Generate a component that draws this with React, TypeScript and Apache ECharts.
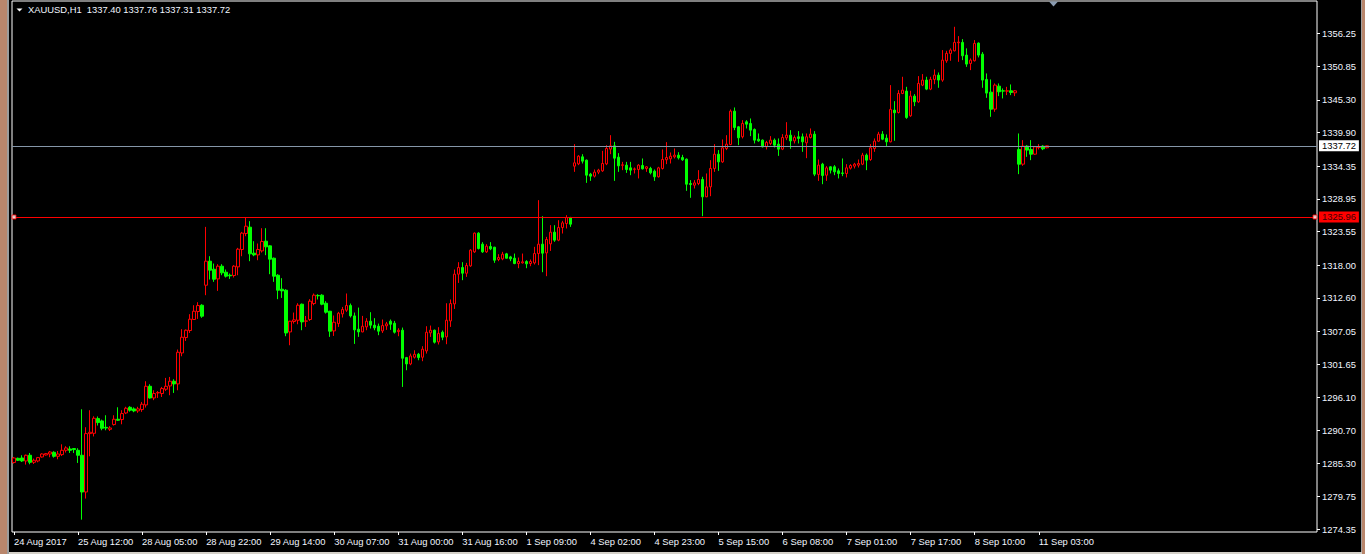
import React, { useEffect, useRef } from 'react';
import * as echarts from 'echarts';

const symbolTitle = 'XAUUSD,H1  1337.40 1337.76 1337.31 1337.72';
const xTickLabels = [
  '24 Aug 2017', '25 Aug 12:00', '28 Aug 05:00', '28 Aug 22:00', '29 Aug 14:00',
  '30 Aug 07:00', '31 Aug 00:00', '31 Aug 16:00', '1 Sep 09:00', '4 Sep 02:00',
  '4 Sep 23:00', '5 Sep 15:00', '6 Sep 08:00', '7 Sep 01:00', '7 Sep 17:00',
  '8 Sep 10:00', '11 Sep 03:00',
];
const barsPerLabel = 16;
const yTickValues = [
  1274.35, 1279.75, 1285.3, 1290.7, 1296.1, 1301.65, 1307.05, 1312.6,
  1318.0, 1323.55, 1328.95, 1334.35, 1339.9, 1345.3, 1350.85, 1356.25,
];
const yMin = 1273.91;
const yMax = 1361.65;
const bidLine = 1337.72;
const userLine = 1325.96;
const totalSlots = 326;

// [open, close, low, high]
const ohlc: number[][] = [
  [1285.40, 1286.14, 1285.22, 1286.31], [1286.09, 1285.76, 1285.65, 1286.20], [1286.14, 1285.65, 1285.48, 1286.59],
  [1285.65, 1286.59, 1285.05, 1286.70], [1286.59, 1285.43, 1285.10, 1286.97], [1285.43, 1285.76, 1285.15, 1286.04],
  [1285.65, 1286.20, 1285.43, 1286.31], [1286.31, 1286.80, 1286.20, 1286.92], [1286.64, 1286.86, 1286.54, 1286.97],
  [1286.80, 1287.13, 1286.26, 1287.30], [1287.08, 1286.42, 1286.20, 1287.25], [1286.42, 1286.80, 1285.93, 1287.30],
  [1286.70, 1287.41, 1286.47, 1288.40], [1287.41, 1287.80, 1287.04, 1288.08], [1287.63, 1287.41, 1286.97, 1288.08],
  [1287.70, 1287.53, 1286.97, 1287.75], [1287.41, 1286.59, 1285.32, 1287.75], [1286.59, 1280.52, 1275.95, 1294.19],
  [1280.52, 1290.17, 1279.43, 1291.22], [1290.17, 1290.39, 1286.42, 1294.03], [1290.22, 1292.70, 1289.70, 1293.03],
  [1292.65, 1291.99, 1291.50, 1293.00], [1292.26, 1291.05, 1290.72, 1292.48], [1291.20, 1291.10, 1290.72, 1293.20],
  [1290.88, 1291.10, 1290.60, 1291.40], [1291.66, 1292.54, 1291.50, 1293.20], [1292.54, 1292.37, 1292.26, 1294.52],
  [1292.49, 1293.48, 1291.71, 1294.03], [1293.58, 1294.36, 1293.40, 1294.60], [1294.52, 1294.03, 1293.80, 1294.70],
  [1294.25, 1293.92, 1293.70, 1294.50], [1293.92, 1294.25, 1293.60, 1294.60], [1294.14, 1295.02, 1293.76, 1295.40],
  [1294.91, 1297.99, 1294.47, 1298.82], [1297.99, 1296.06, 1295.95, 1298.32], [1296.06, 1296.79, 1295.70, 1297.33],
  [1296.89, 1296.95, 1296.06, 1297.20], [1296.79, 1297.61, 1296.22, 1297.88], [1297.50, 1297.99, 1297.22, 1299.37],
  [1298.04, 1298.82, 1296.51, 1299.53], [1298.82, 1298.38, 1296.89, 1299.15], [1298.38, 1303.61, 1297.33, 1304.06],
  [1303.50, 1306.09, 1302.95, 1307.42], [1306.05, 1307.25, 1305.48, 1307.37], [1307.20, 1309.07, 1306.80, 1309.90],
  [1309.02, 1310.39, 1309.02, 1311.38], [1310.34, 1311.33, 1309.12, 1311.88], [1311.38, 1309.57, 1309.30, 1311.55],
  [1314.69, 1318.66, 1313.04, 1324.33], [1318.66, 1317.17, 1315.63, 1319.48], [1317.33, 1315.68, 1315.24, 1318.27],
  [1315.73, 1317.83, 1313.75, 1318.16], [1317.83, 1316.73, 1316.34, 1318.16], [1316.84, 1316.18, 1315.96, 1317.28],
  [1316.34, 1316.24, 1315.73, 1316.62], [1316.29, 1317.83, 1315.96, 1318.00], [1317.72, 1320.64, 1316.34, 1320.86],
  [1320.59, 1323.29, 1319.48, 1323.50], [1323.23, 1324.44, 1322.79, 1325.88], [1324.28, 1319.87, 1318.66, 1325.27],
  [1319.98, 1319.70, 1319.48, 1321.96], [1319.70, 1320.59, 1318.82, 1321.58], [1320.36, 1321.91, 1320.09, 1324.11],
  [1321.96, 1321.03, 1319.65, 1324.11], [1321.19, 1318.99, 1316.51, 1321.30], [1319.15, 1316.18, 1315.24, 1319.26],
  [1316.34, 1313.86, 1312.38, 1316.51], [1314.03, 1313.75, 1312.59, 1315.85], [1313.86, 1306.80, 1306.26, 1314.03],
  [1306.97, 1308.74, 1304.77, 1308.80], [1308.69, 1308.96, 1308.35, 1310.17], [1308.90, 1311.38, 1308.24, 1311.71],
  [1311.55, 1308.63, 1307.25, 1311.66], [1308.74, 1308.79, 1307.80, 1309.60], [1309.02, 1312.05, 1308.79, 1312.38],
  [1311.66, 1313.04, 1311.38, 1313.32], [1313.00, 1312.93, 1312.33, 1313.20], [1313.04, 1311.55, 1311.38, 1313.20],
  [1311.71, 1310.23, 1310.00, 1312.05], [1310.39, 1307.09, 1306.15, 1310.45], [1307.14, 1308.57, 1306.31, 1309.68],
  [1308.35, 1310.06, 1307.80, 1310.28], [1309.95, 1310.67, 1309.35, 1311.10], [1310.56, 1311.33, 1310.28, 1313.32],
  [1311.33, 1309.62, 1309.35, 1311.66], [1309.62, 1307.31, 1304.99, 1310.17], [1307.42, 1306.97, 1306.15, 1310.99],
  [1306.97, 1307.91, 1306.92, 1309.62], [1307.80, 1308.74, 1307.25, 1309.24], [1308.74, 1308.08, 1307.53, 1310.23],
  [1308.08, 1307.64, 1307.25, 1309.24], [1307.91, 1307.09, 1306.43, 1308.35], [1307.14, 1308.02, 1306.80, 1309.02],
  [1307.97, 1308.30, 1307.31, 1308.63], [1308.74, 1308.24, 1307.31, 1309.02], [1308.41, 1306.92, 1306.70, 1308.79],
  [1307.03, 1307.25, 1306.26, 1307.58], [1307.25, 1302.62, 1297.88, 1307.69], [1302.73, 1301.68, 1300.64, 1302.84],
  [1301.68, 1303.00, 1301.47, 1303.39], [1302.79, 1303.28, 1302.57, 1303.94], [1303.28, 1302.73, 1302.29, 1303.50],
  [1302.79, 1304.11, 1302.13, 1304.61], [1303.83, 1306.92, 1303.39, 1307.91], [1306.81, 1307.25, 1306.15, 1308.02],
  [1307.25, 1305.27, 1305.05, 1307.36], [1305.32, 1306.70, 1304.89, 1307.75], [1306.92, 1306.09, 1305.60, 1307.20],
  [1306.15, 1308.90, 1304.94, 1311.71], [1308.79, 1311.66, 1307.80, 1312.33], [1311.60, 1316.51, 1310.77, 1317.28],
  [1316.51, 1317.61, 1315.07, 1318.49], [1317.61, 1316.67, 1315.52, 1318.49], [1316.67, 1317.94, 1316.07, 1318.38],
  [1317.88, 1320.48, 1317.72, 1320.64], [1320.20, 1323.29, 1320.03, 1323.40], [1323.29, 1320.75, 1320.59, 1323.45],
  [1321.47, 1320.20, 1320.03, 1321.80], [1320.20, 1321.14, 1320.03, 1321.47], [1321.08, 1320.70, 1320.48, 1321.80],
  [1320.97, 1318.82, 1318.38, 1321.03], [1318.93, 1319.26, 1318.66, 1319.81], [1319.04, 1319.81, 1318.82, 1320.20],
  [1319.87, 1319.15, 1319.10, 1320.03], [1319.37, 1319.04, 1318.66, 1319.54], [1319.15, 1318.27, 1318.16, 1319.92],
  [1318.27, 1318.60, 1317.50, 1319.26], [1318.38, 1318.55, 1318.27, 1319.92], [1318.60, 1318.22, 1317.50, 1318.82],
  [1318.27, 1318.60, 1317.83, 1318.93], [1318.38, 1319.92, 1318.11, 1321.03], [1319.92, 1321.47, 1318.00, 1328.74],
  [1321.47, 1319.98, 1316.84, 1326.10], [1320.03, 1322.24, 1316.18, 1322.68], [1321.52, 1323.45, 1320.36, 1324.61],
  [1323.45, 1322.13, 1321.85, 1324.61], [1322.13, 1324.22, 1321.96, 1325.43], [1324.22, 1324.99, 1323.23, 1325.32],
  [1324.88, 1325.88, 1324.06, 1326.26], [1325.88, 1324.77, 1324.33, 1325.98], [1334.36, 1334.91, 1333.42, 1338.00],
  [1334.74, 1336.01, 1334.53, 1336.18], [1335.90, 1335.19, 1334.80, 1336.34], [1335.35, 1332.87, 1331.60, 1335.46],
  [1333.04, 1332.71, 1331.93, 1333.25], [1332.71, 1333.37, 1332.49, 1333.81], [1333.37, 1333.70, 1333.04, 1333.92],
  [1333.59, 1334.80, 1333.42, 1336.89], [1334.74, 1337.28, 1334.53, 1337.83], [1337.17, 1337.72, 1336.34, 1339.48],
  [1337.72, 1335.68, 1331.93, 1338.38], [1335.85, 1334.41, 1333.42, 1336.51], [1334.50, 1334.58, 1333.70, 1335.07],
  [1334.53, 1333.81, 1333.25, 1335.07], [1334.08, 1333.70, 1332.87, 1335.07], [1333.84, 1333.90, 1333.15, 1334.14],
  [1333.81, 1334.53, 1332.33, 1334.69], [1334.47, 1333.92, 1333.81, 1335.63], [1333.98, 1334.25, 1333.42, 1334.36],
  [1333.98, 1333.26, 1333.00, 1334.25], [1333.53, 1332.60, 1331.93, 1333.81], [1332.60, 1334.08, 1332.49, 1334.25],
  [1333.98, 1335.46, 1333.81, 1337.12], [1335.41, 1335.79, 1334.69, 1338.33], [1335.57, 1336.01, 1334.80, 1336.62],
  [1335.90, 1336.18, 1335.63, 1337.28], [1336.18, 1335.74, 1335.46, 1336.67], [1335.79, 1335.41, 1335.24, 1336.23],
  [1335.52, 1331.38, 1330.28, 1335.63], [1331.49, 1331.33, 1329.13, 1332.05], [1331.22, 1331.60, 1330.67, 1332.05],
  [1331.49, 1332.16, 1331.22, 1333.70], [1332.16, 1329.29, 1326.10, 1332.60], [1329.29, 1330.94, 1329.25, 1333.15],
  [1330.94, 1333.98, 1329.40, 1335.35], [1333.98, 1336.34, 1333.42, 1338.00], [1336.34, 1335.07, 1333.59, 1337.01],
  [1335.07, 1337.39, 1334.91, 1338.77], [1337.28, 1338.00, 1337.01, 1339.48], [1337.94, 1343.45, 1337.83, 1343.73],
  [1343.45, 1340.75, 1340.31, 1344.06], [1340.86, 1339.04, 1337.83, 1340.97], [1339.21, 1341.41, 1338.94, 1341.96],
  [1341.69, 1341.30, 1340.59, 1341.96], [1341.41, 1340.31, 1339.32, 1342.24], [1340.43, 1338.66, 1338.11, 1340.59],
  [1338.82, 1338.54, 1338.38, 1339.76], [1338.66, 1337.56, 1337.45, 1338.77], [1337.56, 1338.28, 1337.12, 1338.54],
  [1338.11, 1338.66, 1337.83, 1339.32], [1338.66, 1337.83, 1337.45, 1338.94], [1338.00, 1337.17, 1336.06, 1338.94],
  [1337.17, 1339.10, 1337.01, 1339.65], [1339.04, 1339.48, 1338.66, 1341.63], [1339.48, 1338.54, 1337.23, 1340.31],
  [1338.54, 1339.10, 1338.11, 1339.43], [1339.21, 1338.94, 1338.11, 1340.15], [1339.21, 1338.38, 1336.73, 1339.76],
  [1338.22, 1339.21, 1335.68, 1339.76], [1339.10, 1339.65, 1338.94, 1340.59], [1339.65, 1333.04, 1332.71, 1340.15],
  [1332.99, 1334.53, 1331.93, 1335.46], [1334.69, 1332.82, 1331.38, 1334.91], [1332.87, 1334.08, 1331.93, 1334.36],
  [1334.25, 1333.70, 1333.15, 1334.36], [1334.25, 1333.42, 1332.87, 1334.53], [1333.59, 1333.15, 1332.33, 1333.98],
  [1333.25, 1333.15, 1332.71, 1335.63], [1333.15, 1334.08, 1332.49, 1334.69], [1334.03, 1334.47, 1333.81, 1334.69],
  [1334.36, 1334.69, 1333.98, 1334.91], [1334.53, 1334.80, 1334.14, 1335.46], [1334.69, 1336.18, 1334.53, 1336.56],
  [1336.18, 1335.35, 1333.70, 1336.45], [1335.46, 1337.39, 1335.24, 1338.00], [1337.28, 1338.49, 1336.73, 1338.94],
  [1338.49, 1339.65, 1338.38, 1340.03], [1339.65, 1338.82, 1338.66, 1340.15], [1338.99, 1338.38, 1337.67, 1339.60],
  [1338.38, 1343.73, 1338.30, 1347.75], [1343.62, 1343.18, 1338.55, 1345.10], [1343.23, 1346.37, 1343.07, 1346.92],
  [1346.37, 1346.92, 1346.26, 1349.13], [1346.76, 1342.41, 1342.18, 1347.47], [1342.68, 1345.93, 1342.51, 1346.81],
  [1345.93, 1344.99, 1344.28, 1346.26], [1344.99, 1348.03, 1344.83, 1349.24], [1347.75, 1348.58, 1347.58, 1349.57],
  [1348.58, 1347.09, 1346.92, 1349.13], [1347.09, 1348.69, 1346.92, 1349.13], [1348.69, 1349.40, 1347.91, 1350.34],
  [1349.40, 1348.58, 1347.31, 1349.84], [1348.58, 1351.88, 1348.30, 1353.54], [1351.77, 1352.99, 1351.44, 1353.42],
  [1352.99, 1353.54, 1351.77, 1353.82], [1353.42, 1354.81, 1353.32, 1357.39], [1354.75, 1354.86, 1351.60, 1355.85],
  [1354.81, 1352.60, 1351.88, 1355.35], [1352.71, 1351.22, 1350.77, 1353.82], [1351.33, 1351.88, 1350.23, 1352.16],
  [1351.77, 1354.64, 1351.66, 1355.19], [1354.69, 1352.71, 1352.33, 1354.81], [1352.87, 1348.58, 1347.31, 1353.21],
  [1348.69, 1346.43, 1345.65, 1349.68], [1346.59, 1343.78, 1342.51, 1348.69], [1343.78, 1347.75, 1343.34, 1348.03],
  [1347.58, 1346.65, 1345.93, 1348.03], [1346.81, 1346.76, 1345.55, 1347.20], [1346.76, 1346.81, 1346.10, 1347.47],
  [1346.81, 1346.54, 1346.10, 1347.86], [1346.48, 1346.81, 1345.93, 1346.92], [1337.12, 1334.69, 1333.04, 1339.76],
  [1334.69, 1337.67, 1334.42, 1338.66], [1337.67, 1337.01, 1335.90, 1337.83], [1337.12, 1336.34, 1335.35, 1338.66],
  [1336.34, 1337.56, 1336.23, 1337.67], [1337.45, 1337.50, 1337.12, 1338.00], [1337.67, 1337.23, 1337.01, 1337.83],
  [1337.40, 1337.72, 1337.31, 1337.76],
];

const FONT = '"Liberation Sans", Arial, sans-serif';
const TEXT_COLOR = '#f2f6ff';
const BULL = '#ff0000';
const BEAR = '#00ff00';

export default function App() {
  const ref = useRef<HTMLDivElement>(null);

  useEffect(() => {
    if (!ref.current) return;
    const chart = echarts.init(ref.current, undefined, { renderer: 'svg' });
    const categories = Array.from({ length: totalSlots }, (_, i) => String(i));
    const showTick = (index: number) =>
      index % barsPerLabel === 0 && index / barsPerLabel < xTickLabels.length;

    chart.setOption({
      animation: false,
      backgroundColor: 'transparent',
      grid: {
        left: 12,
        top: 1,
        width: 1305,
        height: 531,
        show: true,
        borderColor: '#ffffff',
        borderWidth: 1,
        backgroundColor: 'transparent',
      },
      xAxis: {
        type: 'category',
        data: categories,
        boundaryGap: true,
        axisLine: { show: false },
        axisTick: {
          show: true,
          alignWithLabel: true,
          interval: (index: number) => showTick(index),
          length: 3,
          lineStyle: { color: '#ffffff', width: 1 },
        },
        axisLabel: {
          show: true,
          interval: (index: number) => showTick(index),
          formatter: (_v: string, index: number) =>
            xTickLabels[Math.round(index / barsPerLabel)] ?? '',
          align: 'left',
          color: TEXT_COLOR,
          fontFamily: FONT,
          fontSize: 9.4,
          margin: 5,
        },
        splitLine: { show: false },
      },
      yAxis: {
        type: 'value',
        position: 'right',
        min: yMin,
        max: yMax,
        axisLine: { show: false },
        axisTick: {
          show: true,
          customValues: yTickValues,
          length: 3,
          lineStyle: { color: '#ffffff', width: 1 },
        },
        axisLabel: {
          show: true,
          customValues: yTickValues,
          formatter: (v: number) => v.toFixed(2),
          color: TEXT_COLOR,
          fontFamily: FONT,
          fontSize: 9.4,
          margin: 5,
        },
        splitLine: { show: false },
      },
      graphic: [
        {
          type: 'polygon',
          shape: { points: [[16.5, 8.5], [22.5, 8.5], [19.5, 11.5]] },
          style: { fill: '#ffffff' },
        },
        {
          type: 'polygon',
          shape: { points: [[1049, 1.5], [1058, 1.5], [1053.5, 6.5]] },
          style: { fill: '#8a9bb0' },
        },
        {
          type: 'text',
          x: 28,
          y: 5,
          style: {
            text: symbolTitle,
            fill: TEXT_COLOR,
            font: `9.4px ${FONT}`,
          },
        },
      ],
      series: [
        {
          type: 'candlestick',
          data: ohlc,
          barWidth: 3,
          itemStyle: {
            color: '#000000',
            color0: BEAR,
            borderColor: BULL,
            borderColor0: BEAR,
            borderWidth: 1,
          },
          markLine: {
            silent: true,
            symbol: ['none', 'none'],
            animation: false,
            data: [
              {
                yAxis: bidLine,
                lineStyle: { color: '#8596a8', type: 'solid', width: 1 },
                label: {
                  show: true,
                  position: 'end',
                  distance: 2,
                  formatter: bidLine.toFixed(2),
                  backgroundColor: '#ffffff',
                  color: '#000000',
                  fontFamily: FONT,
                  fontSize: 9.4,
                  lineHeight: 10,
                  padding: [1, 3, 0, 3],
                },
              },
              {
                yAxis: userLine,
                lineStyle: { color: '#ff0000', type: 'solid', width: 1 },
                label: {
                  show: true,
                  position: 'end',
                  distance: 2,
                  formatter: userLine.toFixed(2),
                  backgroundColor: '#ff0000',
                  color: '#400000',
                  fontFamily: FONT,
                  fontSize: 9.4,
                  lineHeight: 10,
                  padding: [1, 3, 0, 3],
                },
              },
            ],
          },
        },
        {
          type: 'scatter',
          data: [[0, userLine], [totalSlots - 1, userLine]],
          symbol: 'rect',
          symbolSize: 4,
          silent: true,
          itemStyle: { color: '#ffffff', borderColor: '#ff0000', borderWidth: 1 },
          z: 5,
        },
      ],
    });

    return () => {
      chart.dispose();
    };
  }, []);

  return (
    <div
      style={{
        position: 'fixed',
        left: 0,
        top: 0,
        width: 1365,
        height: 554,
        background: '#b9866c',
        overflow: 'hidden',
      }}
    >
      <div style={{ position: 'absolute', left: 7, top: 0, width: 2, height: 554, background: '#9c9c9c' }} />
      <div style={{ position: 'absolute', left: 9, top: 0, width: 1352, height: 552, background: '#000000' }} />
      <div style={{ position: 'absolute', left: 1361, top: 0, width: 1, height: 554, background: '#a0a0a0' }} />
      <div style={{ position: 'absolute', left: 9, top: 552, width: 1353, height: 2, background: '#d4d0c8' }} />
      <div ref={ref} style={{ position: 'absolute', left: 0, top: 0, width: 1365, height: 554 }} />
    </div>
  );
}
